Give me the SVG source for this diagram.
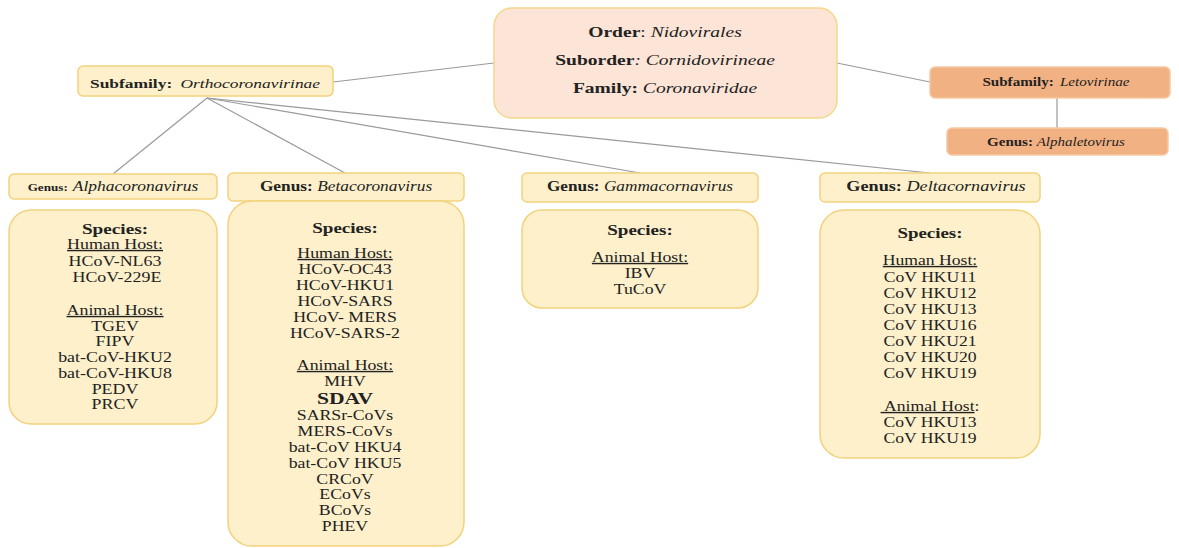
<svg xmlns="http://www.w3.org/2000/svg" width="1179" height="548" viewBox="0 0 1179 548">
<style>
text{font-family:"Liberation Serif","Times New Roman",serif;fill:#222;text-anchor:middle}
.y{fill:#fdf0cb;stroke:#f3d27c;stroke-width:1.5}
.p{fill:#fce4d6;stroke:#f5d88c;stroke-width:1.5}
.o{fill:#f2b183;stroke:#f5c9a2;stroke-width:1.5}
.b{font-weight:bold}
.i{font-style:italic}
.u{text-decoration:underline}
.c line{stroke:#9a9a9a;stroke-width:1.2}
.sp{font-size:14px}
.st{font-size:15px;font-weight:bold}
</style>
<rect width="1179" height="548" fill="#fff"/>
<g class="c" id="connectors">
<line x1="333" y1="82" x2="494" y2="63"/>
<line x1="837" y1="63" x2="930" y2="82"/>
<line x1="1057" y1="98" x2="1057" y2="128"/>
<line x1="207" y1="98" x2="113" y2="174"/>
<line x1="207" y1="98" x2="345" y2="173"/>
<line x1="207" y1="98" x2="640" y2="173"/>
<line x1="207" y1="98" x2="930" y2="173"/>
</g>
<g id="order">
<rect class="p" x="494" y="8" width="343" height="110" rx="18"/>
<g transform="translate(665,0) scale(1.26,1)">
<text x="0" y="37" font-size="15.5"><tspan class="b">Order</tspan>: <tspan class="i">Nidovirales</tspan></text>
<text x="0" y="65" font-size="15.5"><tspan class="b">Suborder</tspan><tspan class="i">: Cornidovirineae</tspan></text>
<text x="0" y="93" font-size="15.5"><tspan class="b">Family:</tspan> <tspan class="i">Coronaviridae</tspan></text>
</g>
</g>
<g id="ortho">
<rect class="y" x="78" y="66" width="255" height="30" rx="5"/>
<g transform="translate(205,0) scale(1.29,1)">
<text x="0" y="88" font-size="13.5"><tspan class="b">Subfamily:</tspan> <tspan class="i" dx="3">Orthocoronavirinae</tspan></text>
</g>
</g>
<g id="leto">
<rect class="o" x="930" y="67" width="240" height="31" rx="5"/>
<g transform="translate(1056,0) scale(1.26,1)">
<text x="0" y="86" font-size="12"><tspan class="b">Subfamily:</tspan> <tspan class="i" dx="2">Letovirinae</tspan></text>
</g>
</g>
<g id="alphaleto">
<rect class="o" x="947" y="128" width="221" height="27" rx="5"/>
<g transform="translate(1056,0) scale(1.25,1)">
<text x="0" y="146" font-size="12"><tspan class="b">Genus:</tspan> <tspan class="i">Alphaletovirus</tspan></text>
</g>
</g>
<g id="genus-alpha">
<rect class="y" x="9" y="174" width="208" height="25" rx="5"/>
<g transform="translate(113,0) scale(1.25,1)">
<text x="0" y="191"><tspan class="b" font-size="10.5">Genus:</tspan> <tspan class="i" font-size="14">Alphacoronavirus</tspan></text>
</g>
</g>
<g id="species-alpha">
<rect class="y" x="9" y="210" width="208" height="214" rx="22"/>
<g transform="translate(115,0) scale(1.28,1)">
<text class="sp" x="0" y="234"><tspan class="st">Species:</tspan><tspan x="0" y="249" class="u">Human Host:</tspan><tspan x="0" y="266">HCoV-NL63</tspan><tspan x="1.5" y="282">HCoV-229E</tspan><tspan x="0" y="315" class="u">Animal Host:</tspan><tspan x="0" y="331">TGEV</tspan><tspan x="0" y="346">FIPV</tspan><tspan x="0" y="362">bat-CoV-HKU2</tspan><tspan x="0" y="378">bat-CoV-HKU8</tspan><tspan x="0" y="394">PEDV</tspan><tspan x="0" y="409">PRCV</tspan></text>
</g>
</g>
<g id="genus-beta">
<rect class="y" x="228" y="173" width="236" height="28" rx="5"/>
<g transform="translate(346,0) scale(1.24,1)">
<text x="0" y="191" font-size="14"><tspan class="b">Genus:</tspan> <tspan class="i">Betacoronavirus</tspan></text>
</g>
</g>
<g id="species-beta">
<rect class="y" x="228" y="201" width="236" height="345" rx="24"/>
<g transform="translate(345,0) scale(1.27,1)">
<text class="sp" x="0" y="233"><tspan class="st">Species:</tspan><tspan x="0" y="258" class="u">Human Host:</tspan><tspan x="0" y="274">HCoV-OC43</tspan><tspan x="0" y="290">HCoV-HKU1</tspan><tspan x="0" y="306">HCoV-SARS</tspan><tspan x="0" y="322">HCoV- MERS</tspan><tspan x="0" y="338">HCoV-SARS-2</tspan><tspan x="0" y="370" class="u">Animal Host:</tspan><tspan x="0" y="386">MHV</tspan><tspan x="0" y="404" class="b" font-size="17">SDAV</tspan><tspan x="0" y="420">SARSr-CoVs</tspan><tspan x="0" y="436">MERS-CoVs</tspan><tspan x="0" y="452">bat-CoV HKU4</tspan><tspan x="0" y="468">bat-CoV HKU5</tspan><tspan x="0" y="484">CRCoV</tspan><tspan x="0" y="499">ECoVs</tspan><tspan x="0" y="515">BCoVs</tspan><tspan x="0" y="531">PHEV</tspan></text>
</g>
</g>
<g id="genus-gamma">
<rect class="y" x="522" y="173" width="236" height="29" rx="5"/>
<g transform="translate(640,0) scale(1.23,1)">
<text x="0" y="191" font-size="14"><tspan class="b">Genus:</tspan> <tspan class="i">Gammacornavirus</tspan></text>
</g>
</g>
<g id="species-gamma">
<rect class="y" x="522" y="210" width="236" height="98" rx="20"/>
<g transform="translate(640,0) scale(1.27,1)">
<text class="sp" x="0" y="235"><tspan class="st">Species:</tspan><tspan x="0" y="262" class="u">Animal Host:</tspan><tspan x="0" y="278">IBV</tspan><tspan x="0" y="294">TuCoV</tspan></text>
</g>
</g>
<g id="genus-delta">
<rect class="y" x="820" y="173" width="220" height="29" rx="5"/>
<g transform="translate(936,0) scale(1.3,1)">
<text x="0" y="191" font-size="14"><tspan class="b">Genus:</tspan> <tspan class="i">Deltacornavirus</tspan></text>
</g>
</g>
<g id="species-delta">
<rect class="y" x="820" y="210" width="220" height="248" rx="24"/>
<g transform="translate(930,0) scale(1.26,1)">
<text class="sp" x="0" y="238"><tspan class="st">Species:</tspan><tspan x="0" y="265" class="u">Human Host:</tspan><tspan x="0" y="282">CoV HKU11</tspan><tspan x="0" y="298">CoV HKU12</tspan><tspan x="0" y="314">CoV HKU13</tspan><tspan x="0" y="330">CoV HKU16</tspan><tspan x="0" y="346">CoV HKU21</tspan><tspan x="0" y="362">CoV HKU20</tspan><tspan x="0" y="378">CoV HKU19</tspan><tspan x="0" y="411"><tspan class="u" xml:space="preserve"> Animal Host</tspan>:</tspan><tspan x="0" y="427">CoV HKU13</tspan><tspan x="0" y="443">CoV HKU19</tspan></text>
</g>
</g>
</svg>
